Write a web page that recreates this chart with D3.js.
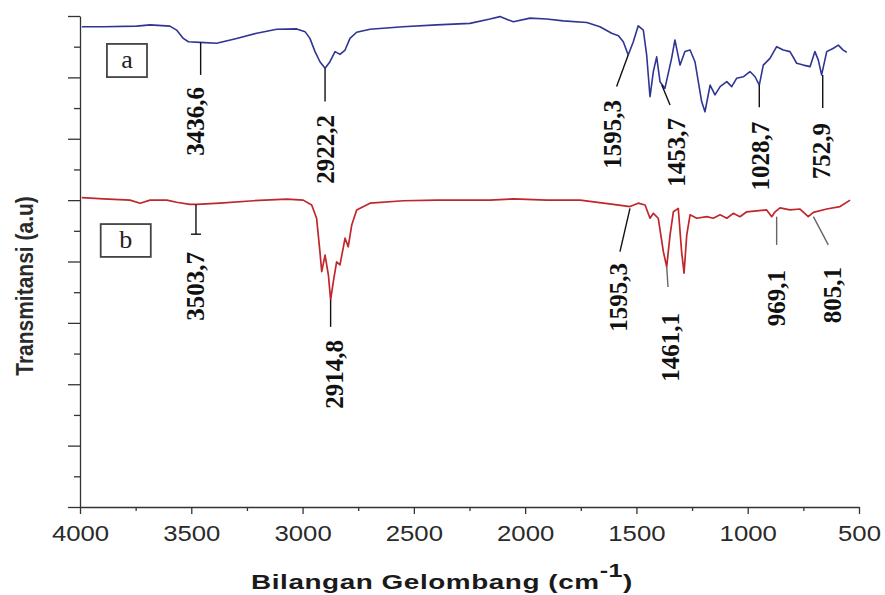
<!DOCTYPE html>
<html>
  <head>
    <meta charset="utf-8">
    <title>FTIR spektrum</title>
    <script src="https://d3js.org/d3.v7.min.js"></script>
    <style>
      body { margin: 0; background: #fff; }
    </style>
  </head>
  <body>
  <svg id="chart" width="885" height="595"></svg>
  <script>
    // spektrum a (biru)
    var blueWave = [3992, 3895, 3745, 3685, 3596, 3566, 3536, 3513, 3461, 3386, 3296, 3206, 3116, 3026, 2989, 2967,
      2944, 2922, 2899, 2877, 2854, 2832, 2809, 2787, 2757, 2697, 2549, 2397, 2248, 2158, 2113, 2053, 1978, 1903,
      1829, 1723, 1664, 1611, 1581, 1559, 1537, 1514, 1492, 1469, 1454, 1439, 1424, 1409, 1394, 1372, 1342, 1327,
      1304, 1282, 1259, 1237, 1207, 1192, 1169, 1147, 1124, 1094, 1072, 1050, 1020, 990, 967, 948, 930, 900, 870,
      840, 810, 780, 750, 720, 698, 683, 668, 645, 615, 593, 571, 555];
    var blueT = [15.65, 15.65, 15.67, 15.71, 15.67, 15.54, 15.27, 15.16, 15.14, 15.11, 15.27, 15.44, 15.57, 15.58, 15.49, 15.27,
      14.84, 14.51, 14.30, 14.51, 14.84, 14.75, 14.89, 15.27, 15.47, 15.57, 15.65, 15.71, 15.76, 15.90, 15.98, 15.81, 15.93, 15.90,
      15.84, 15.79, 15.65, 15.44, 15.36, 15.16, 14.73, 15.16, 15.68, 15.54, 14.73, 13.37, 14.19, 14.67, 13.86, 13.64, 14.62, 15.22,
      14.40, 14.84, 14.89, 14.51, 13.21, 12.88, 13.75, 13.43, 13.70, 13.86, 13.70, 13.97, 14.02, 14.19, 14.02, 13.75, 14.40, 14.62, 15.00,
      14.89, 14.84, 14.46, 14.40, 14.35, 14.84, 14.57, 14.08, 14.84, 14.95, 15.05, 14.89, 14.82];

    // spektrum b (merah)
    var redWave = [3992, 3895, 3775, 3730, 3685, 3610, 3566, 3506, 3476, 3371, 3221, 3071, 2997, 2959, 2937, 2922,
      2914, 2899, 2884, 2874, 2862, 2847, 2832, 2809, 2795, 2779, 2757, 2697, 2547, 2397, 2158, 2053, 1903, 1753,
      1604, 1529, 1492, 1461, 1439, 1424, 1402, 1379, 1364, 1349, 1334, 1312, 1297, 1286, 1274, 1259, 1229, 1184,
      1155, 1124, 1094, 1065, 1035, 1004, 960, 915, 892, 877, 855, 810, 765, 728, 705, 645, 585, 540];
    var redT = [10.08, 10.04, 10.00, 9.90, 10.00, 10.00, 9.93, 9.86, 9.86, 9.90, 9.98, 10.03, 10.00, 9.84, 9.41, 8.32,
      7.67, 8.21, 7.56, 6.75, 7.34, 7.99, 7.89, 8.76, 8.48, 9.19, 9.68, 9.90, 9.98, 10.00, 10.00, 10.04, 10.00, 10.00,
      9.86, 9.79, 9.90, 9.84, 9.41, 9.57, 9.41, 8.32, 7.83, 8.86, 9.62, 9.73, 8.32, 7.62, 8.86, 9.52, 9.41, 9.46,
      9.41, 9.52, 9.41, 9.57, 9.46, 9.62, 9.65, 9.68, 9.46, 9.62, 9.75, 9.68, 9.71, 9.46, 9.60, 9.71, 9.79, 10.00];

    var xTicks = [4000, 3500, 3000, 2500, 2000, 1500, 1000, 500];
    var xMinor = [3750, 3250, 2750, 2250, 1750, 1250, 750];
    var yMajor = [0, 2, 4, 6, 8, 10, 12, 14, 16];
    var yMinor = [1, 3, 5, 7, 9, 11, 13, 15];

    // label puncak
    var peakLabels = ["3436,6", "2922,2", "1595,3", "1453,7", "1028,7", "752,9",
                      "3503,7", "2914,8", "1595,3", "1461,1", "969,1", "805,1"];
    var peakTipW  = [3458, 2899, 1537, 1386, 948, 663, 3479, 2874, 1529, 1364, 870, 705];
    var peakTipT  = [15.14, 14.30, 14.73, 13.75, 13.75, 14.08, 9.86, 6.75, 9.73, 7.83, 9.46, 9.46];
    var peakEndW  = [3458, 2899, 1589, 1349, 948, 663, 3479, 2874, 1574, 1358, 870, 638];
    var peakEndT  = [14.08, 13.21, 13.70, 13.10, 13.03, 13.00, 8.89, 5.87, 8.32, 7.17, 8.54, 8.54];
    var peakTextW = [3481, 2899, 1610, 1322, 945, 671, 3483, 2859, 1583, 1349, 873, 621];
    var peakTextT = [13.69, 12.77, 13.26, 12.68, 12.55, 12.51, 8.31, 5.44, 7.95, 6.32, 7.72, 7.82];
    var peakGrey  = [false, false, false, false, false, false, false, false, false, true, true, true];

    // kotak label sampel
    var sampleNames = ["a", "b"];
    var sampleBoxW = [[3879, 3699], [3907, 3682]];
    var sampleBoxT = [[15.09, 14.01], [9.22, 8.15]];

    var svg = d3.select("#chart");

    var xScale = d3.scaleLinear().domain([4000, 500]).range([80, 859]);
    var yScale = d3.scaleLinear().domain([0, 16]).range([507, 16]);

    // sumbu X
    var xAxis = svg.append("g")
      .attr("transform", "translate(0," + yScale(0) + ")")
      .call(d3.axisBottom(xScale).tickValues(xTicks).tickSize(7).tickSizeOuter(0).tickPadding(11)
        .tickFormat(d3.format("d")));
    svg.append("g")
      .attr("transform", "translate(0," + yScale(0) + ")")
      .call(d3.axisBottom(xScale).tickValues(xMinor).tickSize(4).tickSizeOuter(0).tickFormat(""))
      .select(".domain").remove();
    xAxis.selectAll("text")
      .attr("font-family", "'Liberation Sans', Arial, sans-serif")
      .attr("font-size", 22)
      .attr("fill", "#2a2a2a")
      .attr("transform", "scale(1.17,1)");

    // sumbu Y
    svg.append("g")
      .attr("transform", "translate(" + xScale(4000) + ",0)")
      .call(d3.axisLeft(yScale).tickValues(yMajor).tickSize(12).tickSizeOuter(0).tickFormat(""));
    svg.append("g")
      .attr("transform", "translate(" + xScale(4000) + ",0)")
      .call(d3.axisLeft(yScale).tickValues(yMinor).tickSize(6).tickSizeOuter(0).tickFormat(""))
      .select(".domain").remove();

    svg.selectAll(".domain, .tick line")
      .attr("stroke", "#333")
      .attr("stroke-width", 1.3);

    // judul sumbu
    var xTitle = svg.append("text")
      .attr("font-family", "'Liberation Sans', Arial, sans-serif")
      .attr("font-weight", "bold")
      .attr("font-size", 20)
      .attr("letter-spacing", 0.4)
      .attr("fill", "#1a1a1a")
      .attr("text-anchor", "middle");
    xTitle.append("tspan").text("Bilangan Gelombang (cm");
    xTitle.append("tspan").attr("font-size", 18).attr("dy", -12).text("-1");
    xTitle.append("tspan").attr("dy", 12).text(")");
    var tw = xTitle.node().getComputedTextLength();
    xTitle.attr("transform", "translate(442,589) scale(" + (382 / tw) + ",1)");

    svg.append("text")
      .attr("font-family", "'Liberation Sans', Arial, sans-serif")
      .attr("font-weight", "bold")
      .attr("font-size", 21)
      .attr("fill", "#2a2a2a")
      .attr("text-anchor", "middle")
      .attr("transform", "translate(33,286) scale(1.15,1) rotate(-90)")
      .text("Transmitansi (a.u)");

    // kurva
    var line = d3.line()
      .x(function(d) { return xScale(d[0]); })
      .y(function(d) { return yScale(d[1]); });

    svg.append("path")
      .datum(d3.zip(blueWave, blueT))
      .attr("d", line)
      .attr("fill", "none")
      .attr("stroke", "#2f3592")
      .attr("stroke-width", 1.6)
      .attr("stroke-linejoin", "round");

    svg.append("path")
      .datum(d3.zip(redWave, redT))
      .attr("d", line)
      .attr("fill", "none")
      .attr("stroke", "#c0262b")
      .attr("stroke-width", 1.7)
      .attr("stroke-linejoin", "round");

    // garis dan label puncak
    peakLabels.forEach(function(lbl, i) {
      svg.append("line")
        .attr("x1", xScale(peakTipW[i])).attr("y1", yScale(peakTipT[i]))
        .attr("x2", xScale(peakEndW[i])).attr("y2", yScale(peakEndT[i]))
        .attr("stroke", peakGrey[i] ? "#666" : "#111")
        .attr("stroke-width", 1.4);
      svg.append("text")
        .attr("transform", "translate(" + xScale(peakTextW[i]) + "," + yScale(peakTextT[i]) + ") rotate(-90)")
        .attr("text-anchor", "end")
        .attr("dy", "0.35em")
        .attr("font-family", "'Liberation Serif', 'Times New Roman', serif")
        .attr("font-weight", "bold")
        .attr("font-size", 25)
        .attr("fill", "#111")
        .text(lbl);
    });
    // ujung garis 3503,7
    svg.append("line")
      .attr("x1", xScale(peakEndW[6]) - 5).attr("x2", xScale(peakEndW[6]) + 5)
      .attr("y1", yScale(peakEndT[6])).attr("y2", yScale(peakEndT[6]))
      .attr("stroke", "#111").attr("stroke-width", 1.4);

    // kotak a / b
    sampleNames.forEach(function(name, i) {
      var x0 = xScale(sampleBoxW[i][0]), x1 = xScale(sampleBoxW[i][1]);
      var y0 = yScale(sampleBoxT[i][0]), y1 = yScale(sampleBoxT[i][1]);
      svg.append("rect")
        .attr("x", x0).attr("y", y0)
        .attr("width", x1 - x0).attr("height", y1 - y0)
        .attr("fill", "#fff")
        .attr("stroke", "#444")
        .attr("stroke-width", 1.8);
      svg.append("text")
        .attr("x", (x0 + x1) / 2).attr("y", (y0 + y1) / 2)
        .attr("dy", "0.3em")
        .attr("text-anchor", "middle")
        .attr("font-family", "'Liberation Serif', 'Times New Roman', serif")
        .attr("font-size", 26)
        .attr("fill", "#222")
        .text(name);
    });
  </script>
  </body>
</html>
